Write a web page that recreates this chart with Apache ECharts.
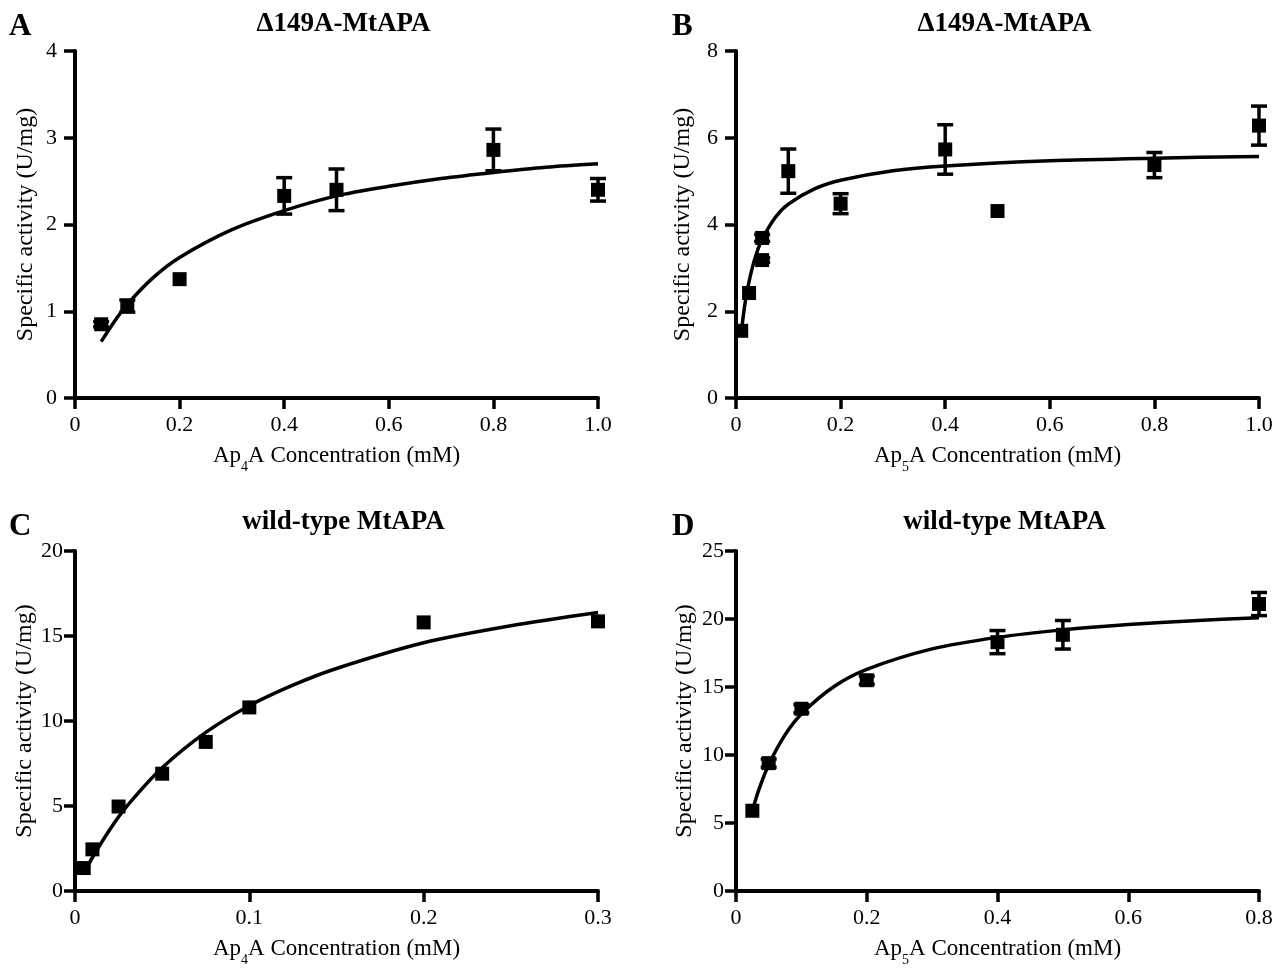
<!DOCTYPE html>
<html>
<head>
<meta charset="utf-8">
<script src="https://cdn.jsdelivr.net/npm/echarts@6/dist/echarts.min.js"></script>
<style>
  html, body { margin: 0; padding: 0; background: #fff; }
  #chart { width: 1280px; height: 968px; }
</style>
</head>
<body>
<div id="chart"></div>
<script>
// Panel A: Δ149A-MtAPA with Ap4A
const aConc = [0.05, 0.1, 0.2, 0.4, 0.5, 0.8, 1.0];
const aRate = [0.85, 1.06, 1.37, 2.33, 2.40, 2.86, 2.40];
const aErr = [0.03, 0.07, 0, 0.21, 0.24, 0.24, 0.13];
const aFitX = [0.05, 0.075, 0.1, 0.15, 0.2, 0.3, 0.4, 0.5, 0.6, 0.7, 0.8, 0.9, 1.0];
const aFitY = [0.65, 0.88, 1.08, 1.39, 1.62, 1.94, 2.16, 2.33, 2.44, 2.53, 2.60, 2.66, 2.70];

// Panel B: Δ149A-MtAPA with Ap5A
const bConc = [0.01, 0.025, 0.05, 0.05, 0.1, 0.2, 0.4, 0.5, 0.8, 1.0];
const bRate = [1.55, 2.42, 3.18, 3.69, 5.23, 4.48, 5.73, 4.31, 5.37, 6.28];
const bErr = [0, 0, 0.05, 0.08, 0.51, 0.23, 0.57, 0, 0.29, 0.45];
const bFitX = [0.01, 0.015, 0.02, 0.03, 0.04, 0.05, 0.075, 0.1, 0.15, 0.2, 0.3, 0.4, 0.6, 0.8, 1.0];
const bFitY = [1.50, 1.99, 2.38, 2.95, 3.36, 3.66, 4.16, 4.47, 4.82, 5.02, 5.24, 5.35, 5.47, 5.53, 5.57];

// Panel C: wild-type MtAPA with Ap4A
const cConc = [0.005, 0.01, 0.025, 0.05, 0.075, 0.1, 0.2, 0.3];
const cRate = [1.35, 2.45, 4.97, 6.9, 8.77, 10.8, 15.8, 15.86];
const cErr = [0, 0, 0, 0, 0, 0, 0, 0];
const cFitX = [0.005, 0.01, 0.02, 0.03, 0.05, 0.075, 0.1, 0.125, 0.15, 0.2, 0.25, 0.3];
const cFitY = [1.03, 1.97, 3.62, 5.02, 7.25, 9.33, 10.9, 12.11, 13.09, 14.6, 15.6, 16.38];

// Panel D: wild-type MtAPA with Ap5A
const dConc = [0.025, 0.05, 0.1, 0.2, 0.4, 0.5, 0.8];
const dRate = [5.9, 9.4, 13.4, 15.5, 18.3, 18.84, 21.1];
const dErr = [0, 0.3, 0.3, 0.3, 0.85, 1.05, 0.85];
const dFitX = [0.025, 0.035, 0.05, 0.075, 0.1, 0.15, 0.2, 0.3, 0.4, 0.5, 0.6, 0.7, 0.8];
const dFitY = [5.90, 7.46, 9.29, 11.48, 13.02, 15.04, 16.30, 17.80, 18.65, 19.2, 19.59, 19.88, 20.1];

const panelLetters = ['A', 'B', 'C', 'D'];
const panelTitles = ['\u0394149A-MtAPA', '\u0394149A-MtAPA', 'wild-type MtAPA', 'wild-type MtAPA'];
const xNames = ['Ap{sub|4}A Concentration (mM)', 'Ap{sub|5}A Concentration (mM)',
  'Ap{sub|4}A Concentration (mM)', 'Ap{sub|5}A Concentration (mM)'];
const yName = 'Specific activity (U/mg)';
const xMax = [1.0, 1.0, 0.3, 0.8];
const xStep = [0.2, 0.2, 0.1, 0.2];
const yMax = [4, 8, 20, 25];
const yStep = [1, 2, 5, 5];

const panels = [
  { conc: aConc, rate: aRate, err: aErr, fitX: aFitX, fitY: aFitY },
  { conc: bConc, rate: bRate, err: bErr, fitX: bFitX, fitY: bFitY },
  { conc: cConc, rate: cRate, err: cErr, fitX: cFitX, fitY: cFitY },
  { conc: dConc, rate: dRate, err: dErr, fitX: dFitX, fitY: dFitY },
];

const FONT = 'Liberation Serif, Times New Roman, serif';
const INK = '#000';

const grids = [
  { left: 75, top: 51, width: 523, height: 347 },
  { left: 736, top: 51, width: 523, height: 347 },
  { left: 75, top: 551, width: 523, height: 346 },
  { left: 736, top: 551, width: 523, height: 346 },
];
const yLabelMargin = [18, 18, 12, 12];
const yNameGap = [37, 41, 37, 39];

const errorBar = (params, api) => {
  const x = api.value(0);
  const y = api.value(1);
  const e = api.value(2);
  if (!e) return;
  const top = api.coord([x, y + e]);
  const bot = api.coord([x, y - e]);
  const hw = 8;
  const style = { stroke: INK, lineWidth: 3.5 };
  return {
    type: 'group',
    children: [
      { type: 'line', shape: { x1: top[0], y1: top[1], x2: bot[0], y2: bot[1] }, style },
      { type: 'line', shape: { x1: top[0] - hw, y1: top[1], x2: top[0] + hw, y2: top[1] }, style },
      { type: 'line', shape: { x1: bot[0] - hw, y1: bot[1], x2: bot[0] + hw, y2: bot[1] }, style },
    ],
  };
};

const titles = [];
const xAxes = [];
const yAxes = [];
const series = [];

grids.forEach((g, i) => {
  titles.push({
    text: panelTitles[i],
    left: g.left + g.width / 2 + 2,
    top: i < 2 ? 6 : 504,
    textAlign: 'center',
    textStyle: { fontFamily: FONT, fontWeight: 'bold', fontSize: 27, color: INK },
  });
  titles.push({
    text: panelLetters[i],
    left: i % 2 === 0 ? 4 : 667,
    top: i < 2 ? 6 : 506,
    textStyle: { fontFamily: FONT, fontWeight: 'bold', fontSize: 31, color: INK },
  });

  xAxes.push({
    type: 'value',
    gridIndex: i,
    min: 0,
    max: xMax[i],
    interval: xStep[i],
    splitLine: { show: false },
    axisLine: { lineStyle: { color: INK, width: 4 } },
    axisTick: { length: 11, lineStyle: { color: INK, width: 3.5 } },
    axisLabel: {
      color: INK, fontFamily: FONT, fontSize: 22, margin: 16,
      formatter: (v) => (v === 0 ? '0' : v.toFixed(1)),
    },
    name: xNames[i],
    nameLocation: 'middle',
    nameGap: 40,
    nameTextStyle: {
      color: INK, fontFamily: FONT, fontSize: 23, lineHeight: 36,
      rich: { sub: { fontFamily: FONT, fontSize: 14, color: INK, lineHeight: 12, verticalAlign: 'bottom' } },
    },
  });

  yAxes.push({
    type: 'value',
    gridIndex: i,
    min: 0,
    max: yMax[i],
    interval: yStep[i],
    splitLine: { show: false },
    axisLine: { lineStyle: { color: INK, width: 4 } },
    axisTick: { length: 11, lineStyle: { color: INK, width: 3.5 } },
    axisLabel: { color: INK, fontFamily: FONT, fontSize: 22, margin: yLabelMargin[i] },
    name: yName,
    nameLocation: 'middle',
    nameGap: yNameGap[i],
    nameTextStyle: { color: INK, fontFamily: FONT, fontSize: 24 },
  });

  const p = panels[i];
  series.push({
    type: 'custom',
    xAxisIndex: i,
    yAxisIndex: i,
    renderItem: errorBar,
    encode: { x: 0, y: 1 },
    data: p.conc.map((c, k) => [c, p.rate[k], p.err[k]]),
    z: 2,
  });
  series.push({
    type: 'scatter',
    xAxisIndex: i,
    yAxisIndex: i,
    symbol: 'rect',
    symbolSize: 14,
    itemStyle: { color: INK, opacity: 1 },
    data: p.conc.map((c, k) => [c, p.rate[k]]),
    z: 3,
  });
  series.push({
    type: 'line',
    xAxisIndex: i,
    yAxisIndex: i,
    smooth: 0.3,
    showSymbol: false,
    lineStyle: { color: INK, width: 3.5 },
    data: p.fitX.map((x, k) => [x, p.fitY[k]]),
    z: 4,
  });
});

const chart = echarts.init(document.getElementById('chart'));
chart.setOption({
  animation: false,
  backgroundColor: '#fff',
  title: titles,
  grid: grids,
  xAxis: xAxes,
  yAxis: yAxes,
  series,
});
</script>
</body>
</html>
